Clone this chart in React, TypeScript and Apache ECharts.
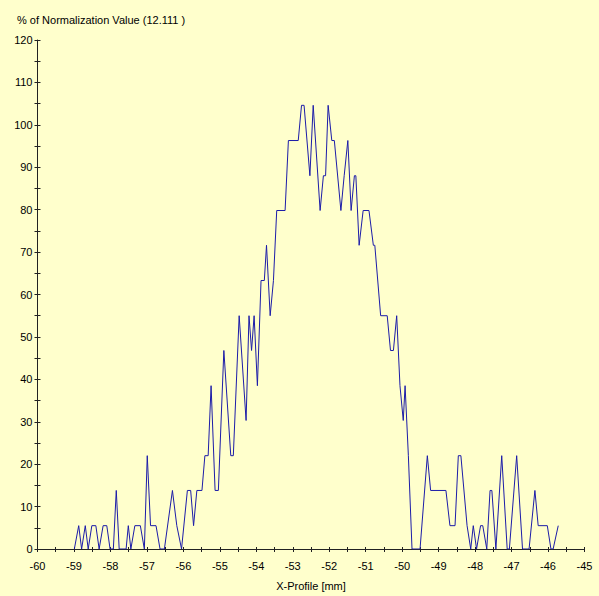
import React, { useEffect, useRef } from "react";
import * as echarts from "echarts";

const titleText = "% of Normalization Value (12.111 )";
const xAxisName = "X-Profile [mm]";

const profileX = [
  -58.99, -58.87, -58.79, -58.69, -58.61, -58.51, -58.4, -58.31, -58.2, -58.1,
  -58.01, -57.92, -57.84, -57.76, -57.57, -57.51, -57.44, -57.33, -57.18, -57.07,
  -56.99, -56.9, -56.75, -56.64, -56.52, -56.3, -56.18, -56.05, -55.89, -55.8,
  -55.72, -55.63, -55.49, -55.41, -55.32, -55.24, -55.13, -55.04, -54.89, -54.7,
  -54.63, -54.47, -54.28, -54.2, -54.13, -54.06, -53.97, -53.87, -53.78, -53.72,
  -53.62, -53.53, -53.44, -53.21, -53.12, -52.85, -52.76, -52.69, -52.53, -52.44,
  -52.25, -52.16, -52.1, -52.03, -51.93, -51.86, -51.68, -51.59, -51.49, -51.4,
  -51.31, -51.27, -51.18, -51.07, -50.91, -50.79, -50.75, -50.59, -50.41, -50.32,
  -50.24, -50.15, -50.06, -49.97, -49.92, -49.83, -49.73, -49.51, -49.31, -49.22,
  -48.8, -48.69, -48.55, -48.46, -48.39, -48.22, -48.12, -48.05, -47.96, -47.85,
  -47.79, -47.68, -47.59, -47.54, -47.43, -47.27, -47.12, -47.06, -46.86, -46.7,
  -46.52, -46.36, -46.27, -46.02, -45.92, -45.86, -45.72,
];

const profileY = [
  0, 5.5, 0, 5.5, 0, 5.5, 5.5, 0, 5.5, 5.5,
  0, 0, 13.8, 0, 0, 5.5, 0, 5.5, 5.5, 0,
  22, 5.5, 5.5, 0, 0, 13.8, 5.5, 0, 13.8, 13.8,
  5.5, 13.8, 13.8, 22, 22, 38.5, 13.8, 13.8, 46.8, 22,
  22, 55, 30.3, 55, 46.8, 55, 38.5, 63.3, 63.3, 71.6,
  55, 63.3, 79.8, 79.8, 96.3, 96.3, 104.6, 104.6, 88, 104.6,
  79.8, 88, 88, 104.6, 96.3, 96.3, 79.8, 88, 96.3, 79.8,
  88, 88, 71.6, 79.8, 79.8, 71.6, 71.6, 55, 55, 46.8,
  46.8, 55, 38.5, 30.3, 38.5, 22, 0, 0, 22, 13.8,
  13.8, 5.5, 5.5, 22, 22, 5.5, 0, 5.5, 0, 5.5,
  5.5, 0, 13.8, 13.8, 0, 22, 0, 0, 22, 0,
  0, 13.8, 5.5, 5.5, 0, 0, 5.5,
];

const xMin = -60;
const xMax = -45;
const yMin = 0;
const yMax = 120;

export default function App() {
  const ref = useRef<HTMLDivElement>(null);
  useEffect(() => {
    if (!ref.current) return;
    const chart = echarts.init(ref.current, undefined, { renderer: "svg" });
    const n = Math.min(profileX.length, profileY.length);
    const data = [];
    for (let i = 0; i < n; i++) data.push([profileX[i], profileY[i]]);
    const font = "Liberation Sans, Arial, sans-serif";
    const axisColor = "#222";
    chart.setOption({
      animation: false,
      backgroundColor: "#FFFFCC",
      title: {
        text: titleText,
        left: 12,
        top: 9,
        textStyle: { fontSize: 11, fontWeight: "normal", color: "#000", fontFamily: font },
      },
      grid: { left: 37.5, right: 14.5, top: 40, bottom: 46, containLabel: false },
      xAxis: [
        {
          type: "value",
          min: xMin,
          max: xMax,
          interval: 0.5,
          position: "bottom",
          name: xAxisName,
          nameLocation: "middle",
          nameGap: 31,
          nameTextStyle: { fontSize: 11, color: "#000", fontFamily: font },
          axisLine: { show: true, onZero: false, lineStyle: { color: axisColor, width: 1 } },
          axisTick: { show: true, inside: false, length: 3, lineStyle: { color: axisColor } },
          axisLabel: {
            margin: 11,
            fontSize: 11,
            color: "#000",
            fontFamily: font,
            showMinLabel: true,
            showMaxLabel: true,
            formatter: (v: number) => (Math.abs(v - Math.round(v)) < 1e-6 ? String(Math.round(v)) : ""),
          },
          splitLine: { show: false },
        },
        {
          type: "value",
          min: xMin,
          max: xMax,
          interval: 0.5,
          position: "bottom",
          axisLine: { show: false },
          axisTick: { show: true, inside: true, length: 2, lineStyle: { color: axisColor } },
          axisLabel: { show: false },
          splitLine: { show: false },
        },
      ],
      yAxis: [
        {
          type: "value",
          min: yMin,
          max: yMax,
          interval: 5,
          position: "left",
          axisLine: { show: true, onZero: false, lineStyle: { color: axisColor, width: 1 } },
          axisTick: { show: true, inside: false, length: 3, lineStyle: { color: axisColor } },
          axisLabel: {
            margin: 5,
            fontSize: 11,
            color: "#000",
            fontFamily: font,
            formatter: (v: number) => (Math.round(v) % 10 === 0 ? String(Math.round(v)) : ""),
          },
          splitLine: { show: false },
        },
        {
          type: "value",
          min: yMin,
          max: yMax,
          interval: 5,
          position: "left",
          axisLine: { show: false },
          axisTick: { show: true, inside: true, length: 3, lineStyle: { color: axisColor } },
          axisLabel: { show: false },
          splitLine: { show: false },
        },
      ],
      series: [
        {
          type: "line",
          xAxisIndex: 0,
          yAxisIndex: 0,
          data,
          showSymbol: false,
          symbol: "none",
          lineStyle: { color: "#1c1ca8", width: 1 },
          z: 3,
        },
      ],
    });
    return () => chart.dispose();
  }, []);
  return (
    <div
      ref={ref}
      style={{ position: "fixed", left: 0, top: 0, width: 599, height: 596 }}
    />
  );
}
